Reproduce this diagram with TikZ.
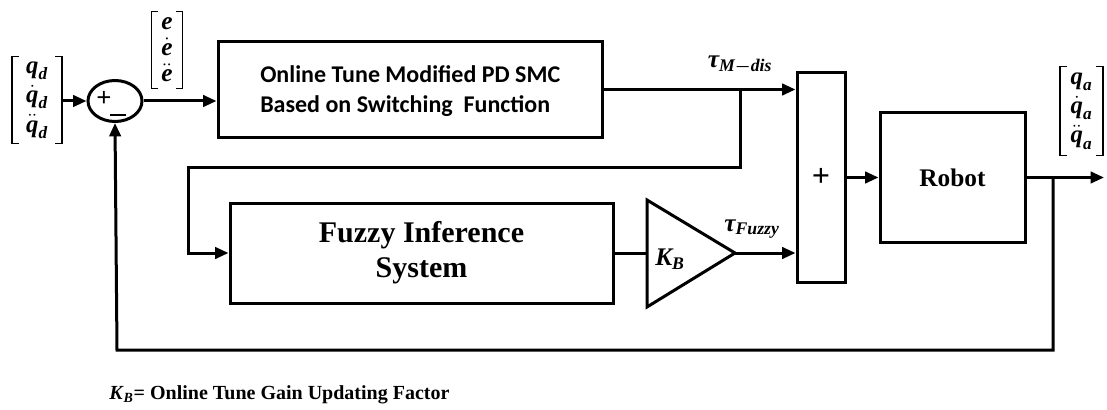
\RequirePackage{fix-cm}
\documentclass[tikz,border=0pt]{standalone}
\usepackage{amsmath}
\usepackage{fontspec}
\setmainfont{Liberation Serif}
\newfontfamily\calib{Carlito}
\usetikzlibrary{shapes.geometric,arrows.meta}
\newcommand{\bi}[1]{\text{\bfseries\itshape #1}}
\tikzset{
  blk/.style={draw, line width=2.25pt, rectangle, inner sep=0pt},
  conn/.style={line width=2.25pt},
  arr/.style={line width=2.25pt, -{Triangle[length=10pt,width=8.5pt]}},
  vnode/.style={inner sep=0pt, align=center, font=\bfseries\fontsize{18.5}{22}\selectfont},
  brk/.style={line width=1.1pt},
  lab/.style={inner sep=0pt, font=\fontsize{19}{19}\selectfont}
}
\begin{document}
\begin{tikzpicture}[x=0.75pt, y=-0.75pt]
\useasboundingbox[fill=white] (0,0) rectangle (1107,410);

% blocks
\node[blk, ellipse, minimum width=40.5pt, minimum height=30.75pt] (sum) at (115,101) {};
\node[font=\bfseries\fontsize{20}{20}\selectfont, inner sep=0pt] (plussign) at (104,99) {+};
\node[inner sep=0pt] (minussign) at (118,115) {\rule{12pt}{2.2pt}};

\node[blk, minimum width=288pt, minimum height=71.25pt] (smc) at (410,89.5) {};
\node[anchor=west, align=left, inner sep=0pt, font=\calib\bfseries\fontsize{18}{22.5}\selectfont] (smctext) at (260,91) {Online Tune Modified PD SMC\\Based on Switching\ \ Function};

\node[blk, minimum width=287.25pt, minimum height=75pt, align=center, font=\bfseries\fontsize{22.5}{26}\selectfont] (fis) at (421.5,253) {Fuzzy Inference\\System};

\node[blk, minimum width=36pt, minimum height=156.75pt, font=\bfseries\fontsize{24}{24}\selectfont] (plus) at (821,177.5) {+};

\node[blk, minimum width=108.75pt, minimum height=97.5pt, font=\bfseries\fontsize{19}{22}\selectfont] (robot) at (952.5,177.5) {Robot};

% gain triangle
\coordinate (kbl) at (647,253);
\coordinate (kbt) at (735,253);
\draw[conn, line join=miter] (647,200) -- (kbt) -- (647,307) -- cycle;
\node[lab] (kb) at (670,259) {$\bi{K}_{\bi{B}}$};

% vectors
\node[vnode, minimum height=64.5pt, minimum width=37pt] (qd) at (37,100)
  {$\bi{q}_{\bi{d}}$\\$\dot{\bi{q}}_{\bi{d}}$\\$\ddot{\bi{q}}_{\bi{d}}$};
\node[vnode, minimum height=57pt, minimum width=23pt, font=\bfseries\fontsize{19}{19.5}\selectfont] (ev) at (167,50)
  {$\bi{e}$\\$\dot{\bi{e}}$\\$\ddot{\bi{e}}$};
\node[vnode, minimum height=66pt, minimum width=32pt] (qa) at (1081.5,111)
  {$\bi{q}_{\bi{a}}$\\$\dot{\bi{q}}_{\bi{a}}$\\$\ddot{\bi{q}}_{\bi{a}}$};
\foreach \v in {qd,ev,qa}{
  \draw[brk] ([xshift=5pt]\v.north west) -- (\v.north west) -- (\v.south west) -- ([xshift=5pt]\v.south west);
  \draw[brk] ([xshift=-5pt]\v.north east) -- (\v.north east) -- (\v.south east) -- ([xshift=-5pt]\v.south east);
}

% labels
\node[lab] (taum) at (740,65) {$\bi{τ}_{\bi{M}\boldsymbol{-}\bi{dis}}$};
\node[lab] (tauf) at (752,229) {$\bi{τ}_{\bi{Fuzzy}}$};
\node[anchor=west, inner sep=0pt, font=\bfseries\fontsize{15}{18}\selectfont] (legend) at (109,395) {\textit{K}\textsubscript{\textit{B}}= Online Tune Gain Updating Factor};

% connectors
\coordinate (br) at (740,89.5);
\coordinate (c1) at (188,167);
\coordinate (tap) at (1053,177.5);
\coordinate (out) at (1104,177.5);
\coordinate (fb) at (117,350);

\draw[arr] (qd.east |- sum.west) -- (sum.west);
\draw[arr] (sum.east) -- (sum.east -| smc.west);
\draw[arr] (smc.east) -- (smc.east -| plus.west);
\draw[arr] (br) |- (c1) |- (fis.west);
\draw[conn] (fis.east) -- (kbl);
\draw[arr] (kbt) -- (kbt -| plus.west);
\draw[arr] (plus.east |- robot.west) -- (robot.west);
\draw[arr] (robot.east) -- (out);
\draw[arr] (tap) |- (fb) -- (sum.south);
\end{tikzpicture}
\end{document}
